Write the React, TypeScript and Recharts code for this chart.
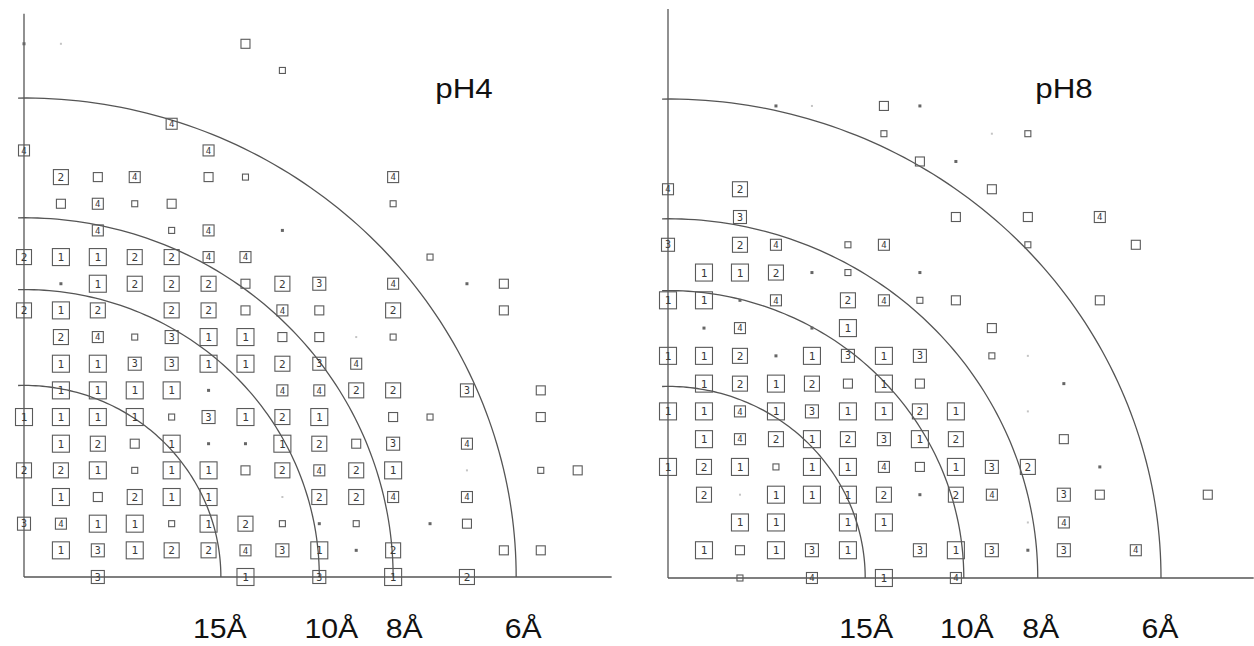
import React from 'react';
import { ScatterChart, Scatter, XAxis, YAxis, ReferenceLine } from 'recharts';

// Resolution rings (Å) and their labels
const resolutionRings = [15, 10, 8, 6];
const ringLabels = ['15Å', '10Å', '8Å', '6Å'];

// Reciprocal lattice cell edges (Å) read from the spot spacing
const ph4Cell = { a: 80.0, b: 107.8 };
const ph8Cell = { a: 82.2, b: 103.5 };

// Spot codes per row (k = 0 upward), column h = 0..15
// '1'..'4' boxed class, 'o' empty box, 's' small box, '.' dot, ',' faint dot, '_' none
const ph4Rows = [
  '__3___1_3_1_2___',
  '_13122431.2__oo_',
  '3411s12s.s_.o___',
  '_1o211_,224_4___',
  '221s11o2421_,_so',
  '_12o1..12o3_4___',
  '1111s3121_os__o_',
  '_1111._4422_3_o_',
  '_113311234______',
  '_24s311oo,s_____',
  '212_22o4o_2__o__',
  '_.1222o23_4_.o__',
  '2112244____s____',
  '__4_s4_.________',
  '_o4so_____s_____',
  '_2o4_os___4_____',
  '4____4__________',
  '____4___________',
  '________________',
  '_______s________',
  '.,____o_________',
];

const ph8Rows = [
  '__s_4_1_4_______',
  '_1o131_313.3_4__',
  '__11_11___,4____',
  '_2,1112.24_3o__o',
  '121s114o132_.___',
  '_14212312__o____',
  '114131121_,_____',
  '_1212o1o___.____',
  '112.1313_s,_____',
  '_.4_.1___o______',
  '11.4_24so___o___',
  '_112.s_.________',
  '3_24_s4___s__o__',
  '__3_____o_o_4___',
  '4_2______o______',
  '_______o._______',
  '______s__,s_____',
  '___.,_o.________',
];

const panelTitles = ['pH4', 'pH8'];

const spotSize: Record<string, number> = { '1': 17, '2': 15, '3': 13, '4': 11, o: 9, s: 6, '.': 3, ',': 2 };
const digitSize: Record<string, number> = { '1': 11, '2': 11, '3': 10, '4': 9 };

type Spot = { x: number; y: number; code: string };

function buildSpots(rows: string[], cell: { a: number; b: number }): Spot[] {
  const out: Spot[] = [];
  rows.forEach((row, k) => {
    row.split('').forEach((c, h) => {
      if (c !== '_') out.push({ x: h / cell.a, y: k / cell.b, code: c });
    });
  });
  return out;
}

function ringPoints(d: number) {
  const r = 1 / d;
  const overhang = 0.002;
  const tMax = Math.acos(-overhang / r);
  const pts: { x: number; y: number }[] = [];
  const n = 90;
  for (let i = 0; i <= n; i++) {
    const t = (tMax * i) / n;
    pts.push({ x: r * Math.cos(t), y: r * Math.sin(t) });
  }
  return pts;
}

const SpotShape = (props: any) => {
  const { cx, cy, payload } = props;
  const code: string = payload.code;
  const s = spotSize[code];
  if (code === '.' || code === ',') {
    return <rect x={cx - s / 2} y={cy - s / 2} width={s} height={s} fill={code === '.' ? '#666' : '#c4c4c4'} />;
  }
  const isDigit = '1234'.includes(code);
  return (
    <g>
      <rect x={cx - s / 2} y={cy - s / 2} width={s} height={s} fill="none" stroke="#5a5a5a" strokeWidth={1.1} />
      {isDigit && (
        <text x={cx} y={cy} dy="0.36em" textAnchor="middle" fontSize={digitSize[code]} fontFamily="DejaVu Sans Mono" fill="#3a3a3a">
          {code}
        </text>
      )}
    </g>
  );
};

const EmptyShape = () => <g />;

const LABEL_BASELINE = 638;
const LABEL_FONT = 'Liberation Sans, Arial, sans-serif';

const makeRingTick = (shifts: number[]) => (props: any) => {
  const { x, index } = props;
  const tx = x + shifts[index];
  return (
    <text
      x={tx}
      y={LABEL_BASELINE}
      transform={`translate(${tx} 0) scale(1.08 1) translate(${-tx} 0)`}
      textAnchor="middle"
      fontFamily={LABEL_FONT}
      fontSize={28}
      fill="#111"
    >
      {ringLabels[index]}
    </text>
  );
};

type PanelProps = {
  rows: string[];
  cell: { a: number; b: number };
  chartLeft: number;
  chartWidth: number;
  originX: number;
  originY: number;
  pxPerX: number;
  pxPerY: number;
  xMin: number;
  xMax: number;
  yMin: number;
  yMax: number;
  axisEnd: number;
  labelShift: number[];
};

const H = 646;
const AXIS_H = 40;

function Panel(p: PanelProps) {
  const spots = buildSpots(p.rows, p.cell);
  const mLeft = p.originX - p.chartLeft + p.xMin * p.pxPerX;
  const plotW = (p.xMax - p.xMin) * p.pxPerX;
  const mRight = p.chartWidth - mLeft - plotW;
  const mTop = p.originY - p.yMax * p.pxPerY;
  const plotBottom = p.originY - p.yMin * p.pxPerY;
  const mBottom = H - plotBottom - AXIS_H;
  const ticks = resolutionRings.map((d) => 1 / d);
  const Tick = makeRingTick(p.labelShift);
  return (
    <div style={{ position: 'absolute', left: p.chartLeft, top: 0 }}>
      <ScatterChart width={p.chartWidth} height={H} margin={{ left: mLeft, right: mRight, top: mTop, bottom: mBottom }}>
        <XAxis
          type="number"
          dataKey="x"
          domain={[p.xMin, p.xMax]}
          ticks={ticks}
          tick={<Tick />}
          tickSize={0}
          tickMargin={0}
          tickLine={false}
          axisLine={false}
          height={AXIS_H}
          interval={0}
        />
        <YAxis type="number" dataKey="y" domain={[p.yMin, p.yMax]} hide />
        <ReferenceLine segment={[{ x: 0, y: 0 }, { x: 0, y: p.yMax }]} stroke="#555" strokeWidth={1.3} />
        <ReferenceLine segment={[{ x: 0, y: 0 }, { x: p.axisEnd, y: 0 }]} stroke="#555" strokeWidth={1.3} />
        {resolutionRings.map((d) => (
          <Scatter
            key={d}
            data={ringPoints(d)}
            line={{ stroke: '#555', strokeWidth: 1.3 }}
            shape={EmptyShape}
            isAnimationActive={false}
          />
        ))}
        <Scatter data={spots} shape={SpotShape} isAnimationActive={false} />
      </ScatterChart>
    </div>
  );
}

export default function App() {
  return (
    <div style={{ position: 'absolute', left: 0, top: 0, width: 1254, height: 646, background: '#fff', overflow: 'hidden' }}>
      <Panel
        rows={ph4Rows}
        cell={ph4Cell}
        chartLeft={0}
        chartWidth={627}
        originX={24}
        originY={577}
        pxPerX={2953}
        pxPerY={2874}
        xMin={-0.006}
        xMax={0.2}
        yMin={-0.004}
        yMax={0.196}
        axisEnd={0.199}
        labelShift={[-1, 12, 11, 7]}
      />
      <Panel
        rows={ph8Rows}
        cell={ph8Cell}
        chartLeft={627}
        chartWidth={627}
        originX={668}
        originY={578}
        pxPerX={2958}
        pxPerY={2874}
        xMin={-0.006}
        xMax={0.198}
        yMin={-0.004}
        yMax={0.198}
        axisEnd={0.198}
        labelShift={[1, 3, 3, -1]}
      />
      <svg width={1254} height={646} style={{ position: 'absolute', left: 0, top: 0, pointerEvents: 'none' }}>
        <text x={464} y={98} textAnchor="middle" transform="translate(464 0) scale(1.12 1) translate(-464 0)" fontFamily={LABEL_FONT} fontSize={28} fill="#111">
          {panelTitles[0]}
        </text>
        <text x={1064} y={98} textAnchor="middle" transform="translate(1064 0) scale(1.12 1) translate(-1064 0)" fontFamily={LABEL_FONT} fontSize={28} fill="#111">
          {panelTitles[1]}
        </text>
      </svg>
    </div>
  );
}
